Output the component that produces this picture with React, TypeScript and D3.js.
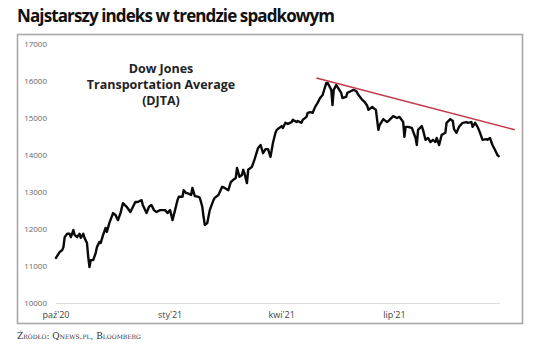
import * as d3 from "d3";

const dates = [
  "2020-10-01", "2020-10-04", "2020-10-06", "2020-10-07", "2020-10-08", "2020-10-10", "2020-10-12", "2020-10-13",
  "2020-10-15", "2020-10-16", "2020-10-18", "2020-10-20", "2020-10-21", "2020-10-23", "2020-10-24", "2020-10-26",
  "2020-10-27", "2020-10-28", "2020-10-29", "2020-10-31", "2020-11-02", "2020-11-03", "2020-11-05", "2020-11-06",
  "2020-11-08", "2020-11-10", "2020-11-11", "2020-11-13", "2020-11-16", "2020-11-18", "2020-11-20", "2020-11-22",
  "2020-11-24", "2020-11-27", "2020-11-30", "2020-12-04", "2020-12-06", "2020-12-09", "2020-12-10", "2020-12-13",
  "2020-12-15", "2020-12-17", "2020-12-19", "2020-12-21", "2020-12-24", "2020-12-28", "2020-12-30", "2021-01-01",
  "2021-01-03", "2021-01-07", "2021-01-08", "2021-01-11", "2021-01-12", "2021-01-14", "2021-01-15", "2021-01-18",
  "2021-01-19", "2021-01-21", "2021-01-24", "2021-01-25", "2021-01-27", "2021-01-28", "2021-01-29", "2021-01-31",
  "2021-02-02", "2021-02-05", "2021-02-06", "2021-02-09", "2021-02-12", "2021-02-14", "2021-02-17", "2021-02-19",
  "2021-02-21", "2021-02-23", "2021-02-24", "2021-02-26", "2021-02-28", "2021-03-01", "2021-03-02", "2021-03-04",
  "2021-03-05", "2021-03-08", "2021-03-10", "2021-03-13", "2021-03-15", "2021-03-17", "2021-03-19", "2021-03-21",
  "2021-03-23", "2021-03-25", "2021-03-27", "2021-03-28", "2021-03-30", "2021-04-01", "2021-04-02", "2021-04-04",
  "2021-04-06", "2021-04-09", "2021-04-10", "2021-04-13", "2021-04-14", "2021-04-17", "2021-04-18", "2021-04-21",
  "2021-04-22", "2021-04-24", "2021-04-26", "2021-04-28", "2021-04-30", "2021-05-02", "2021-05-04", "2021-05-05",
  "2021-05-07", "2021-05-08", "2021-05-09", "2021-05-11", "2021-05-12", "2021-05-13", "2021-05-15", "2021-05-16",
  "2021-05-19", "2021-05-20", "2021-05-23", "2021-05-24", "2021-05-27", "2021-05-29", "2021-05-31", "2021-06-02",
  "2021-06-05", "2021-06-07", "2021-06-09", "2021-06-10", "2021-06-13", "2021-06-14", "2021-06-16", "2021-06-18",
  "2021-06-19", "2021-06-22", "2021-06-25", "2021-06-27", "2021-06-30", "2021-07-03", "2021-07-05", "2021-07-08",
  "2021-07-09", "2021-07-10", "2021-07-12", "2021-07-15", "2021-07-18", "2021-07-19", "2021-07-20", "2021-07-23",
  "2021-07-24", "2021-07-26", "2021-07-28", "2021-07-30", "2021-08-01", "2021-08-03", "2021-08-04", "2021-08-06",
  "2021-08-08", "2021-08-11", "2021-08-12", "2021-08-15", "2021-08-17", "2021-08-18", "2021-08-20", "2021-08-22",
  "2021-08-25", "2021-08-28", "2021-08-29", "2021-09-01", "2021-09-02", "2021-09-04", "2021-09-06", "2021-09-08",
  "2021-09-10", "2021-09-13", "2021-09-14", "2021-09-16", "2021-09-18", "2021-09-20", "2021-09-22", "2021-09-23",
];

const djta = [
  11220, 11380, 11430, 11510, 11780, 11870, 11870, 11780,
  11970, 11840, 11780, 11870, 11760, 11870, 11760, 11620,
  11240, 10970, 11160, 11160, 11350, 11510, 11650, 11620,
  11840, 12030, 11920, 12160, 12430, 12380, 12240, 12430,
  12700, 12600, 12460, 12730, 12730, 12780, 12650, 12430,
  12600, 12650, 12510, 12460, 12510, 12510, 12430, 12510,
  12240, 12780, 12870, 12870, 13050, 12970, 12970, 12920,
  13110, 12890, 12870, 12840, 12600, 12330, 12110, 12160,
  12510, 12780, 12840, 12920, 13140, 13110, 13050, 13270,
  13330, 13380, 13650, 13410, 13460, 13600, 13510, 13240,
  13600, 13680, 13870, 14190, 14270, 14050, 14160, 14160,
  13950, 14330, 14600, 14680, 14730, 14780, 14730, 14870,
  14840, 14890, 14950, 14890, 14920, 14870, 14950, 15030,
  15140, 15160, 15140, 15300, 15410, 15540, 15620, 15730,
  15950, 15950, 15890, 15760, 15350, 15760, 15890, 15840,
  15680, 15540, 15570, 15680, 15730, 15760, 15730, 15620,
  15490, 15430, 15330, 15220, 15300, 15270, 15220, 14680,
  14810, 14970, 14890, 14950, 15050, 15000, 15030, 14890,
  14490, 14760, 14760, 14730, 14460, 14270, 14680, 14780,
  14680, 14410, 14460, 14350, 14410, 14350, 14460, 14270,
  14540, 14600, 14870, 14970, 14920, 14700, 14600, 14760,
  14870, 14890, 14870, 14890, 14760, 14870, 14760, 14600,
  14410, 14430, 14410, 14460, 14270, 14140, 14000, 13970,
];

const trendDates = ["2021-04-29", "2021-10-06"];
const trendValues = [16080, 14680];

const yTicks = [10000, 11000, 12000, 13000, 14000, 15000, 16000, 17000];
const xTickDates = ["2020-10-01", "2021-01-01", "2021-04-01", "2021-07-01"];
const xTickLabels = ["paź'20", "sty'21", "kwi'21", "lip'21"];
const axisEnd = "2021-09-24";

const title = "Najstarszy indeks w trendzie spadkowym";
const noteLines = ["Dow Jones", "Transportation Average", "(DJTA)"];
const source = "Źródło: Qnews.pl, Bloomberg";

const parse = d3.utcParse("%Y-%m-%d");

export default function App() {
  if (typeof document !== "undefined") document.body.style.margin = "0";

  const x = d3
    .scaleUtc()
    .domain([parse("2020-10-01")!, parse("2021-07-01")!])
    .range([56, 394.5]);
  const y = d3.scaleLinear().domain([10000, 17000]).range([303, 44]);

  const points = dates.map((d, i) => ({ date: parse(d)!, value: djta[i] }));
  const line = d3
    .line<{ date: Date; value: number }>()
    .x((d) => x(d.date))
    .y((d) => y(d.value));

  const trend = trendDates.map((d, i) => ({ date: parse(d)!, value: trendValues[i] }));

  const font = "'Open Sans', 'DejaVu Sans', sans-serif";

  return (
    <svg width={536} height={351} style={{ display: "block", background: "#fff" }}>
      <text x={17} y={22} fontFamily={font} fontWeight={700} fontSize={17} fill="#111" textLength={318}>
        {title}
      </text>

      {/* frame */}
      <rect x={17.5} y={34.5} width={505} height={289} fill="#fff" stroke="#a9a9a9" strokeWidth={1.6} />

      {/* y labels */}
      {yTicks.map((t) => (
        <text key={t} x={47} y={y(t) + 3} textAnchor="end" fontFamily={font} fontSize={8} fill="#666">
          {t}
        </text>
      ))}

      {/* x axis */}
      <line
        x1={x(parse(xTickDates[0])!)}
        x2={x(parse(axisEnd)!)}
        y1={y(10000) + 0.5}
        y2={y(10000) + 0.5}
        stroke="#dcdcdc"
        strokeWidth={1}
      />
      {xTickDates.map((d, i) => (
        <text
          key={d}
          x={x(parse(d)!)}
          y={318}
          textAnchor="middle"
          fontFamily={font}
          fontSize={9}
          fill="#444"
        >
          {xTickLabels[i]}
        </text>
      ))}

      {/* annotation */}
      {noteLines.map((s, i) => (
        <text
          key={s}
          x={161}
          y={73 + i * 16}
          textAnchor="middle"
          fontFamily={font}
          fontWeight={700}
          fontSize={12.5}
          fill="#222"
        >
          {s}
        </text>
      ))}

      <path
        d={line(points) ?? ""}
        fill="none"
        stroke="#0a0a0a"
        strokeWidth={2.4}
        strokeLinejoin="round"
        strokeLinecap="round"
      />

      <path d={line(trend) ?? ""} fill="none" stroke="#c23b4a" strokeWidth={1.5} />

      <text
        x={17}
        y={339}
        fontFamily="'DejaVu Serif', 'Liberation Serif', serif"
        fontSize={9}
        fill="#333"
        style={{ fontVariant: "small-caps" }}
      >
        {source}
      </text>
    </svg>
  );
}
